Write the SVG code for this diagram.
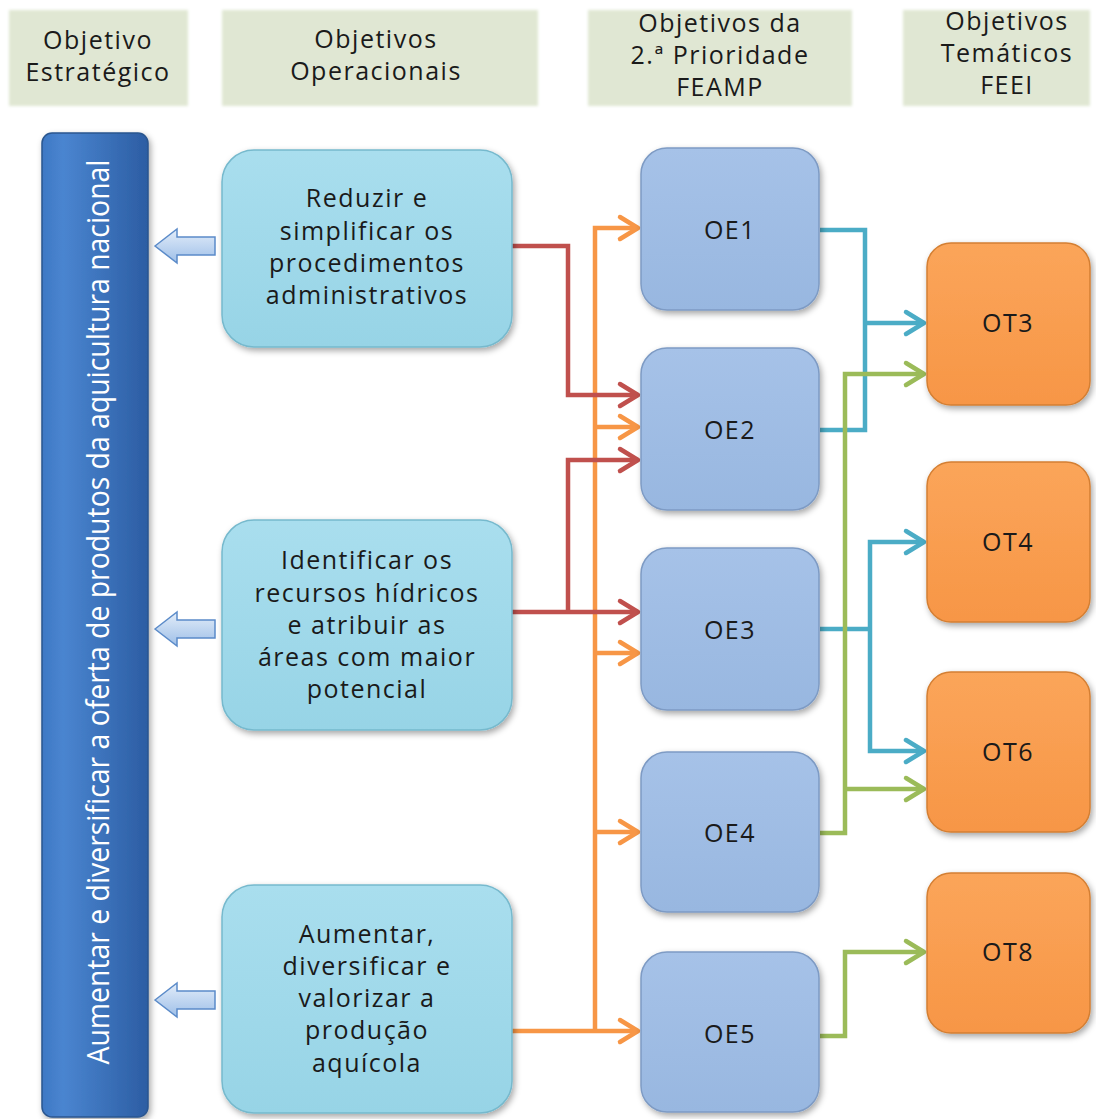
<svg xmlns="http://www.w3.org/2000/svg" width="1096" height="1119" viewBox="0 0 1096 1119">
<defs>
<style>
.txt{font-family:"Open Sans","Liberation Sans",sans-serif;font-size:25px;fill:#1a1a1a;text-anchor:middle;letter-spacing:1.5px}
.hdr{fill:#E0E7D3}
.op{fill:url(#gOp);stroke:#76B9CD;stroke-width:1.5}
.oe{fill:url(#gOe);stroke:#7E9BC4;stroke-width:1.5}
.ot{fill:url(#gOt);stroke:#D47F33;stroke-width:1.5}
.ba{fill:url(#gBa);stroke:#5B8BC9;stroke-width:1.5}
.c{fill:none;stroke-width:4.5;stroke-linejoin:miter}
.red{stroke:#C0504D}
.org{stroke:#F79646}
.tea{stroke:#4BACC6}
.grn{stroke:#9BBB59}
</style>
<linearGradient id="gOp" x1="0" y1="0" x2="0" y2="1"><stop offset="0" stop-color="#A9DEEE"/><stop offset="1" stop-color="#97D4E6"/></linearGradient>
<linearGradient id="gOe" x1="0" y1="0" x2="0" y2="1"><stop offset="0" stop-color="#A6C2E8"/><stop offset="1" stop-color="#98B7E0"/></linearGradient>
<linearGradient id="gOt" x1="0" y1="0" x2="0" y2="1"><stop offset="0" stop-color="#FBA55A"/><stop offset="1" stop-color="#F79646"/></linearGradient>
<linearGradient id="gBar" x1="0" y1="0" x2="1" y2="0"><stop offset="0" stop-color="#3E78C4"/><stop offset="0.2" stop-color="#4A85D0"/><stop offset="1" stop-color="#2C5DA3"/></linearGradient>
<linearGradient id="gBa" x1="0" y1="0" x2="0" y2="1"><stop offset="0" stop-color="#E3EDF9"/><stop offset="1" stop-color="#9EBFE8"/></linearGradient>
<filter id="sh" x="-10%" y="-10%" width="125%" height="125%"><feDropShadow dx="2" dy="3" stdDeviation="3" flood-color="#000" flood-opacity="0.35"/></filter>
<filter id="bl" x="-5%" y="-5%" width="110%" height="110%"><feGaussianBlur stdDeviation="1.8"/></filter>
<marker id="aRed" markerUnits="userSpaceOnUse" markerWidth="28" markerHeight="30" refX="23" refY="15" orient="auto" overflow="visible"><path d="M5,4 L23,15 L5,26" fill="none" stroke="#C0504D" stroke-width="4.5" stroke-linecap="round" stroke-linejoin="round"/></marker>
<marker id="aOrg" markerUnits="userSpaceOnUse" markerWidth="28" markerHeight="30" refX="23" refY="15" orient="auto" overflow="visible"><path d="M5,4 L23,15 L5,26" fill="none" stroke="#F79646" stroke-width="4.5" stroke-linecap="round" stroke-linejoin="round"/></marker>
<marker id="aTea" markerUnits="userSpaceOnUse" markerWidth="28" markerHeight="30" refX="23" refY="15" orient="auto" overflow="visible"><path d="M5,4 L23,15 L5,26" fill="none" stroke="#4BACC6" stroke-width="4.5" stroke-linecap="round" stroke-linejoin="round"/></marker>
<marker id="aGrn" markerUnits="userSpaceOnUse" markerWidth="28" markerHeight="30" refX="23" refY="15" orient="auto" overflow="visible"><path d="M5,4 L23,15 L5,26" fill="none" stroke="#9BBB59" stroke-width="4.5" stroke-linecap="round" stroke-linejoin="round"/></marker>
</defs>
<rect width="1096" height="1119" fill="#FFFFFF"/>

<g id="headers">
<g id="h1"><rect class="hdr" x="9" y="10" width="179" height="96" filter="url(#bl)"/><text class="txt" x="98" y="49">Objetivo</text><text class="txt" x="98" y="81">Estratégico</text></g>
<g id="h2"><rect class="hdr" x="222" y="10" width="316" height="96" filter="url(#bl)"/><text class="txt" x="376" y="48">Objetivos</text><text class="txt" x="376" y="80">Operacionais</text></g>
<g id="h3"><rect class="hdr" x="588" y="10" width="264" height="96" filter="url(#bl)"/><text class="txt" x="720" y="32">Objetivos da</text><text class="txt" x="720" y="64">2.ª Prioridade</text><text class="txt" x="720" y="96">FEAMP</text></g>
<g id="h4"><rect class="hdr" x="903" y="10" width="187" height="96" filter="url(#bl)"/><text class="txt" x="1007" y="30">Objetivos</text><text class="txt" x="1007" y="62">Temáticos</text><text class="txt" x="1007" y="94">FEEI</text></g>
</g>

<g id="strategic">
<rect x="42" y="133" width="106" height="984" rx="10" fill="url(#gBar)" stroke="#2A568F" stroke-width="1.5" filter="url(#sh)"/>
<text transform="translate(109,612) rotate(-90)" x="0" y="0" font-family="'Open Sans','Liberation Sans',sans-serif" font-size="31" fill="#FFFFFF" text-anchor="middle" textLength="905" lengthAdjust="spacingAndGlyphs">Aumentar e diversificar a oferta de produtos da aquicultura nacional</text>
</g>

<g id="block-arrows">
<path class="ba" d="M155,246 L177,229 L177,237 L215,237 L215,255 L177,255 L177,263 Z"/>
<path class="ba" d="M155,629 L177,612 L177,620 L215,620 L215,638 L177,638 L177,646 Z"/>
<path class="ba" d="M155,1000 L177,983 L177,991 L215,991 L215,1009 L177,1009 L177,1017 Z"/>
</g>

<g id="connectors">
<path class="c org" d="M512,1031 H638" marker-end="url(#aOrg)"/>
<path class="c org" d="M595,1031 V228 H638" marker-end="url(#aOrg)"/>
<path class="c org" d="M595,427 H638" marker-end="url(#aOrg)"/>
<path class="c org" d="M595,653 H638" marker-end="url(#aOrg)"/>
<path class="c org" d="M595,832 H638" marker-end="url(#aOrg)"/>
<path class="c red" d="M512,246 H568 V395 H638" marker-end="url(#aRed)"/>
<path class="c red" d="M512,612 H638" marker-end="url(#aRed)"/>
<path class="c red" d="M568,612 V460 H638" marker-end="url(#aRed)"/>
<path class="c tea" d="M820,230 H865 V430 H820"/>
<path class="c tea" d="M865,323 H924" marker-end="url(#aTea)"/>
<path class="c tea" d="M820,629 H870"/>
<path class="c tea" d="M870,629 V542 H924" marker-end="url(#aTea)"/>
<path class="c tea" d="M870,629 V751 H924" marker-end="url(#aTea)"/>
<path class="c grn" d="M820,833 H845 V374 H924" marker-end="url(#aGrn)"/>
<path class="c grn" d="M845,789 H924" marker-end="url(#aGrn)"/>
<path class="c grn" d="M820,1036 H845 V952 H924" marker-end="url(#aGrn)"/>
</g>

<g id="op1"><rect class="op" x="222" y="150" width="290" height="197" rx="32" filter="url(#sh)"/><text class="txt" x="367" y="207">Reduzir e</text><text class="txt" x="367" y="240">simplificar os</text><text class="txt" x="367" y="272">procedimentos</text><text class="txt" x="367" y="304">administrativos</text></g>
<g id="op2"><rect class="op" x="222" y="520" width="290" height="210" rx="32" filter="url(#sh)"/><text class="txt" x="367" y="569">Identificar os</text><text class="txt" x="367" y="602">recursos hídricos</text><text class="txt" x="367" y="634">e atribuir as</text><text class="txt" x="367" y="666">áreas com maior</text><text class="txt" x="367" y="698">potencial</text></g>
<g id="op3"><rect class="op" x="222" y="885" width="290" height="228" rx="32" filter="url(#sh)"/><text class="txt" x="367" y="943">Aumentar,</text><text class="txt" x="367" y="975">diversificar e</text><text class="txt" x="367" y="1007">valorizar a</text><text class="txt" x="367" y="1039">produção</text><text class="txt" x="367" y="1072">aquícola</text></g>

<g id="oe1"><rect class="oe" x="641" y="148" width="178" height="162" rx="26" filter="url(#sh)"/><text class="txt" x="730" y="239">OE1</text></g>
<g id="oe2"><rect class="oe" x="641" y="348" width="178" height="162" rx="26" filter="url(#sh)"/><text class="txt" x="730" y="439">OE2</text></g>
<g id="oe3"><rect class="oe" x="641" y="548" width="178" height="162" rx="26" filter="url(#sh)"/><text class="txt" x="730" y="639">OE3</text></g>
<g id="oe4"><rect class="oe" x="641" y="752" width="178" height="160" rx="26" filter="url(#sh)"/><text class="txt" x="730" y="842">OE4</text></g>
<g id="oe5"><rect class="oe" x="641" y="952" width="178" height="160" rx="26" filter="url(#sh)"/><text class="txt" x="730" y="1043">OE5</text></g>

<g id="ot3"><rect class="ot" x="927" y="243" width="163" height="162" rx="24" filter="url(#sh)"/><text class="txt" x="1008" y="332">OT3</text></g>
<g id="ot4"><rect class="ot" x="927" y="462" width="163" height="160" rx="24" filter="url(#sh)"/><text class="txt" x="1008" y="551">OT4</text></g>
<g id="ot6"><rect class="ot" x="927" y="672" width="163" height="160" rx="24" filter="url(#sh)"/><text class="txt" x="1008" y="761">OT6</text></g>
<g id="ot8"><rect class="ot" x="927" y="873" width="163" height="160" rx="24" filter="url(#sh)"/><text class="txt" x="1008" y="961">OT8</text></g>
</svg>
